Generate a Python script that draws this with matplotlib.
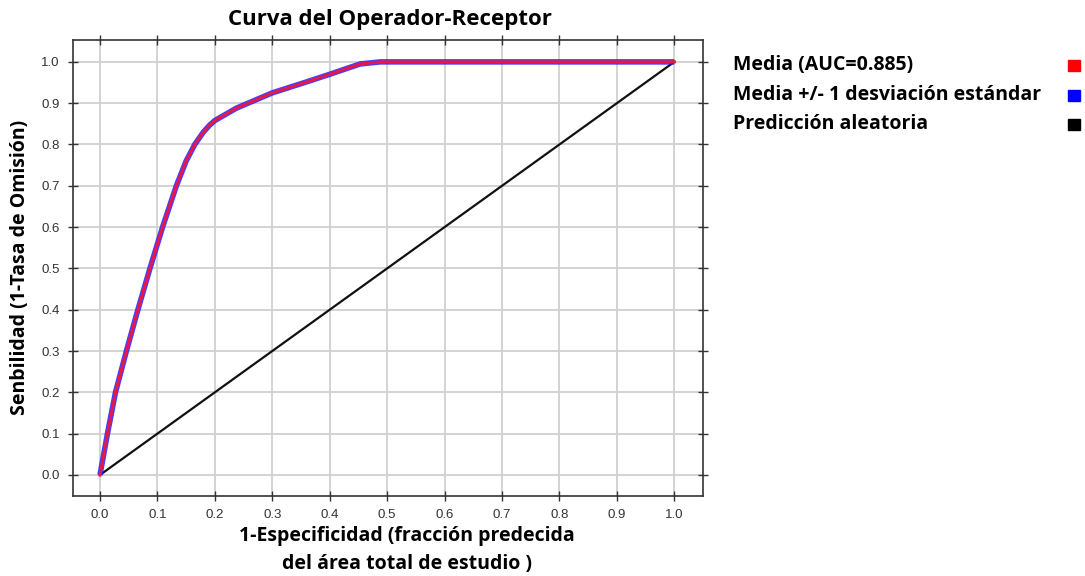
import matplotlib
matplotlib.use("Agg")
import matplotlib.pyplot as plt
from matplotlib.patches import Rectangle
from matplotlib import font_manager

# Data
fpr = [0.0, 0.013, 0.027, 0.046, 0.066, 0.087, 0.109, 0.133, 0.150, 0.165, 0.180,
       0.191, 0.200, 0.2375, 0.300, 0.354, 0.400, 0.453, 0.488, 0.50, 1.0]
tpr = [0.0, 0.10, 0.20, 0.30, 0.40, 0.50, 0.60, 0.70, 0.76, 0.80, 0.83,
       0.847, 0.858, 0.888, 0.925, 0.949, 0.970, 0.995, 1.0, 1.0, 1.0]
random_x = [0.0, 1.0]
random_y = [0.0, 1.0]
ticks = [round(0.1 * i, 1) for i in range(11)]
legend_labels = ["Media (AUC=0.885)", "Media +/- 1 desviación estándar", "Predicción aleatoria"]
legend_colors = ["#ff0000", "#0000ff", "#000000"]

available = {f.name for f in font_manager.fontManager.ttflist}
bold_font = [f for f in ["Open Sans", "Lato", "DejaVu Sans"] if f in available]
tick_font = [f for f in ["Liberation Sans Narrow", "Liberation Sans", "DejaVu Sans"] if f in available]

W, H = 1085, 576
fig = plt.figure(figsize=(W / 100, H / 100), dpi=100)
ax = fig.add_axes([73 / W, 1 - 496 / H, 630 / W, 456 / H])

ax.plot(fpr, tpr, color="#2020ff", lw=4.0, alpha=0.85, solid_capstyle="butt",
        solid_joinstyle="round", zorder=3)
ax.plot(fpr, tpr, color="#e8174a", lw=2.2, solid_joinstyle="round", zorder=4)
ax.plot(random_x, random_y, color="#111111", lw=1.6, zorder=2)

ax.set_xlim(-0.047, 1.05)
ax.set_ylim(-0.051, 1.053)
ax.set_xticks(ticks)
ax.set_yticks(ticks)
ax.set_xticklabels([f"{t:.1f}" for t in ticks], fontfamily=tick_font, fontsize=9.5, color="#333333")
ax.set_yticklabels([f"{t:.1f}" for t in ticks], fontfamily=tick_font, fontsize=9.5, color="#333333")
ax.grid(True, color="#d0d0d0", lw=1.3)
ax.set_axisbelow(True)
ax.tick_params(direction="inout", length=7, width=1, top=True, right=True, colors="#333333", pad=6)
for s in ax.spines.values():
    s.set_color("#333333")
    s.set_linewidth(1.2)

fig.text(390 / W, 1 - 20 / H, "Curva del Operador-Receptor", ha="center", va="center",
         fontsize=16, fontweight="bold", family=bold_font)
fig.text(407 / W, 1 - 536 / H, "1-Especificidad (fracción predecida", ha="center", va="center",
         fontsize=14, fontweight="bold", family=bold_font)
fig.text(407 / W, 1 - 564 / H, "del área total de estudio )", ha="center", va="center",
         fontsize=14, fontweight="bold", family=bold_font)
fig.text(20 / W, 1 - 267 / H, "Senbilidad (1-Tasa de Omisión)", ha="center", va="center",
         rotation=90, fontsize=14, fontweight="bold", family=bold_font)

ys = [65, 95, 124]
for lab, col, y in zip(legend_labels, legend_colors, ys):
    fig.text(733 / W, 1 - y / H, lab, ha="left", va="center", fontsize=14,
             fontweight="bold", family=bold_font)
    fig.patches.append(Rectangle(((1068) / W, 1 - (y + 6) / H), 12 / W, 11 / H,
                                 transform=fig.transFigure, color=col, figure=fig))

fig.savefig("out.png", dpi=100)
